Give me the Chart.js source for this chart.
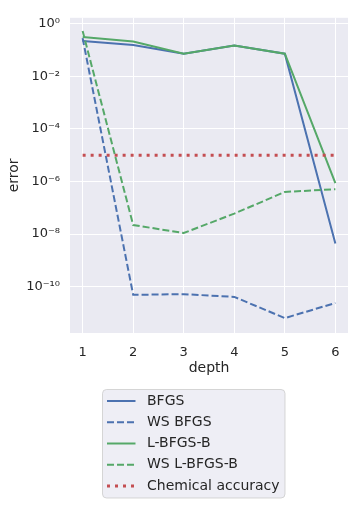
<!DOCTYPE html>
<html>
<head>
<meta charset="utf-8">
<script src="https://cdn.jsdelivr.net/npm/chart.js@4.4.1/dist/chart.umd.min.js"></script>
<style>
  html, body { margin: 0; padding: 0; background: #ffffff; }
  #wrap { width: 355px; height: 505px; }
</style>
</head>
<body>
<div id="wrap"><canvas id="c" width="355" height="505"></canvas></div>
<script>
// ---- data ----
const depths = [1, 2, 3, 4, 5, 6];
const seriesNames = ['BFGS', 'WS BFGS', 'L-BFGS-B', 'WS L-BFGS-B', 'Chemical accuracy'];
const bfgs      = [0.22, 0.155, 0.072, 0.146, 0.072, 4.4e-9];
const wsBfgs    = [0.28, 4.9e-11, 5.2e-11, 4.1e-11, 6.4e-12, 2.4e-11];
const lbfgsb    = [0.31, 0.21, 0.072, 0.146, 0.072, 8.7e-7];
const wsLbfgsb  = [0.52, 2.2e-8, 1.1e-8, 6.0e-8, 4.0e-7, 5.1e-7];
const chemAcc   = [1e-5, 1e-5, 1e-5, 1e-5, 1e-5, 1e-5];
const xTicks = [1, 2, 3, 4, 5, 6];
const yTickValues = [1e-10, 1e-8, 1e-6, 1e-4, 1e-2, 1];
const yTickLabels = ['10\u207B\u00B9\u2070', '10\u207B\u2078', '10\u207B\u2076', '10\u207B\u2074', '10\u207B\u00B2', '10\u2070'];

const BLUE = '#4c72b0', GREEN = '#55a868', RED = '#c44e52', TEXT = '#262626';

function pts(arr) { return depths.map((d, i) => ({ x: d, y: arr[i] })); }

const styles = [
  { data: bfgs,     color: BLUE,  width: 2, dash: [] },
  { data: wsBfgs,   color: BLUE,  width: 2, dash: [7, 3] },
  { data: lbfgsb,   color: GREEN, width: 2, dash: [] },
  { data: wsLbfgsb, color: GREEN, width: 2, dash: [7, 3] },
  { data: chemAcc,  color: RED,   width: 3, dash: [3, 5] }
];

const datasets = styles.map((s, i) => ({
  label: seriesNames[i],
  data: pts(s.data),
  borderColor: s.color,
  backgroundColor: s.color,
  borderWidth: s.width,
  borderDash: s.dash,
  borderCapStyle: 'butt',
  pointRadius: 0,
  pointHoverRadius: 0,
  tension: 0,
  fill: false,
  order: styles.length - i
}));

const bgPlugin = {
  id: 'bg',
  beforeDraw(chart) {
    const { ctx, chartArea: a } = chart;
    ctx.save();
    ctx.fillStyle = '#eaeaf2';
    ctx.fillRect(a.left, a.top, a.right - a.left, a.bottom - a.top);
    ctx.restore();
  }
};

const legendPlugin = {
  id: 'boxLegend',
  afterDraw(chart) {
    const ctx = chart.ctx;
    const bx = 102.5, by = 389.5, bw = 182.5, bh = 108.5, r = 4;
    ctx.save();
    ctx.beginPath();
    ctx.moveTo(bx + r, by);
    ctx.lineTo(bx + bw - r, by);
    ctx.quadraticCurveTo(bx + bw, by, bx + bw, by + r);
    ctx.lineTo(bx + bw, by + bh - r);
    ctx.quadraticCurveTo(bx + bw, by + bh, bx + bw - r, by + bh);
    ctx.lineTo(bx + r, by + bh);
    ctx.quadraticCurveTo(bx, by + bh, bx, by + bh - r);
    ctx.lineTo(bx, by + r);
    ctx.quadraticCurveTo(bx, by, bx + r, by);
    ctx.closePath();
    ctx.fillStyle = 'rgba(234,234,242,0.8)';
    ctx.fill();
    ctx.strokeStyle = 'rgba(204,204,204,0.8)';
    ctx.lineWidth = 1;
    ctx.stroke();
    const rowY0 = 401, rowStep = 21.25;
    chart.data.datasets.forEach((ds, i) => {
      const y = rowY0 + i * rowStep;
      ctx.beginPath();
      ctx.setLineDash(ds.borderDash || []);
      ctx.lineCap = 'butt';
      ctx.strokeStyle = ds.borderColor;
      ctx.lineWidth = ds.borderWidth;
      ctx.moveTo(107, y);
      ctx.lineTo(135.5, y);
      ctx.stroke();
      ctx.setLineDash([]);
      ctx.fillStyle = TEXT;
      ctx.font = '14px "DejaVu Sans"';
      ctx.textBaseline = 'middle';
      ctx.textAlign = 'left';
      ctx.fillText(ds.label, 147, y);
    });
    ctx.restore();
  }
};

new Chart(document.getElementById('c'), {
  type: 'line',
  data: { datasets },
  options: {
    responsive: false,
    animation: false,
    events: [],
    layout: { padding: { left: 0, right: 7, top: 8, bottom: 128 } },
    plugins: { legend: { display: false }, tooltip: { enabled: false } },
    scales: {
      x: {
        type: 'linear',
        min: 0.75,
        max: 6.25,
        afterBuildTicks(scale) { scale.ticks = xTicks.map(v => ({ value: v })); },
        afterFit(scale) { scale.height = 44; },
        ticks: {
          color: TEXT,
          font: { family: 'DejaVu Sans', size: 13 },
          padding: 12,
          maxRotation: 0,
          callback: (v) => String(v)
        },
        grid: { color: '#ffffff', lineWidth: 1, drawTicks: false },
        border: { display: false },
        title: {
          display: true,
          text: 'depth',
          color: TEXT,
          font: { family: 'DejaVu Sans', size: 14 },
          padding: { top: 0, bottom: 0 }
        }
      },
      y: {
        type: 'logarithmic',
        min: Math.pow(10, -11.76),
        max: Math.pow(10, 0.221),
        afterBuildTicks(scale) { scale.ticks = yTickValues.map(v => ({ value: v, major: true })); },
        afterFit(scale) { scale.width = 70; },
        ticks: {
          color: TEXT,
          font: { family: 'DejaVu Sans', size: 13 },
          padding: 10,
          callback: (v) => {
            const idx = yTickValues.findIndex(t => Math.abs(Math.log10(t) - Math.log10(v)) < 1e-6);
            return idx >= 0 ? yTickLabels[idx] : '';
          }
        },
        grid: { color: '#ffffff', lineWidth: 1, drawTicks: false },
        border: { display: false },
        title: {
          display: true,
          text: 'error',
          color: TEXT,
          font: { family: 'DejaVu Sans', size: 14 },
          padding: { top: 6, bottom: 0 }
        }
      }
    }
  },
  plugins: [bgPlugin, legendPlugin]
});
</script>
</body>
</html>
